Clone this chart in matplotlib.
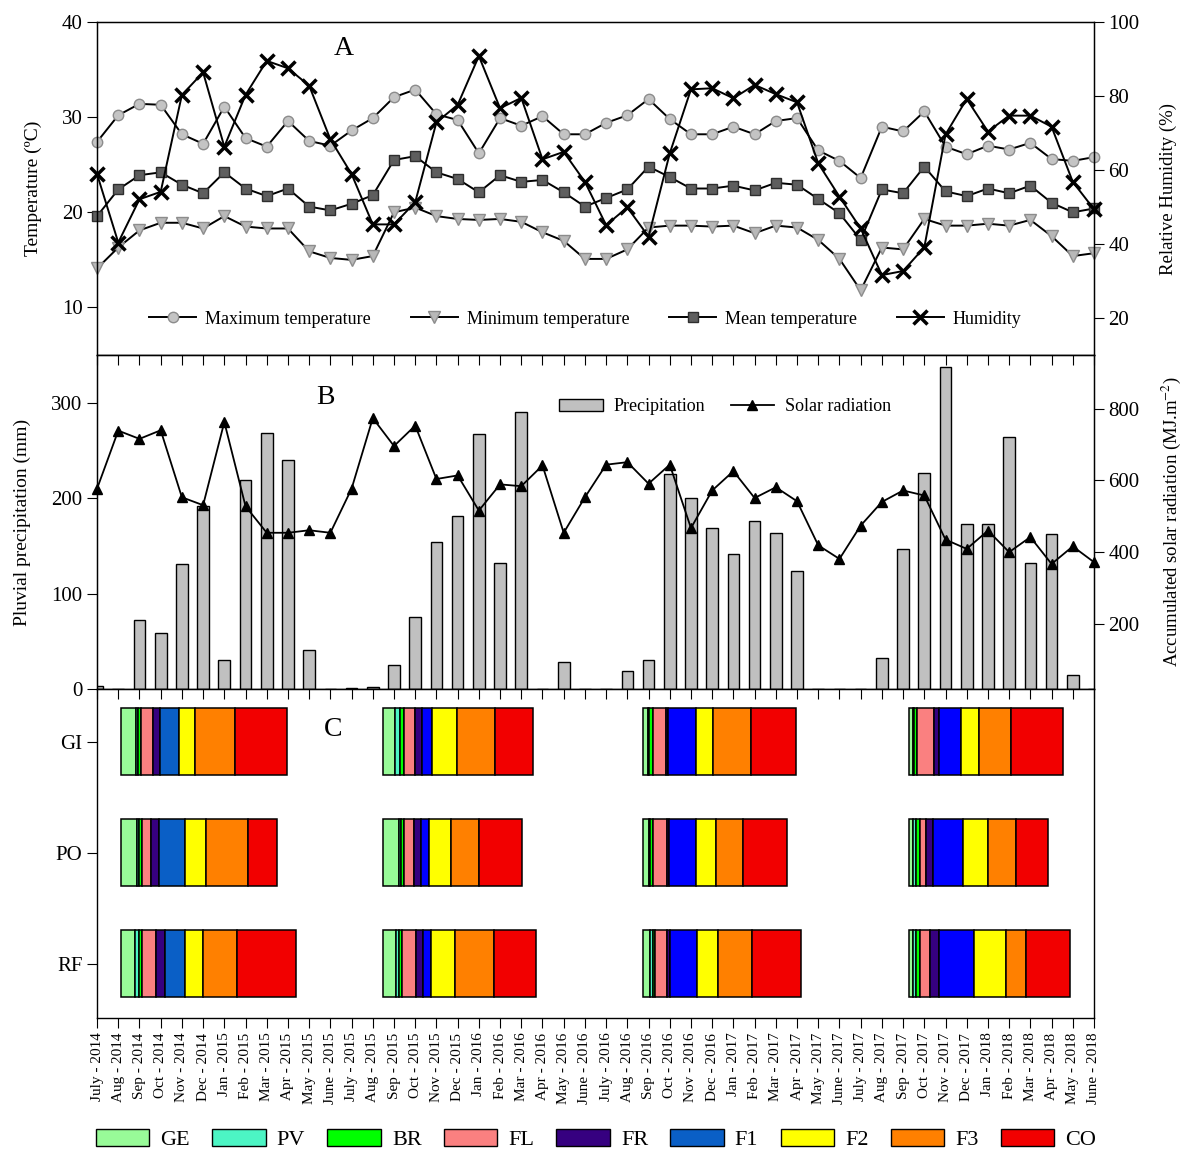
import numpy as np
import matplotlib
matplotlib.use('Agg')
import matplotlib.pyplot as plt
from matplotlib.patches import Patch
from matplotlib.lines import Line2D

plt.rcParams['font.family'] = ['Liberation Serif', 'DejaVu Serif']
plt.rcParams['mathtext.fontset'] = 'stix'

# ─── Data ────────────────────────────────────────────────────────────────────
months = ['July - 2014', 'Aug - 2014', 'Sep - 2014', 'Oct - 2014', 'Nov - 2014', 'Dec - 2014',
          'Jan - 2015', 'Feb - 2015', 'Mar - 2015', 'Apr - 2015', 'May - 2015', 'June - 2015',
          'July - 2015', 'Aug - 2015', 'Sep - 2015', 'Oct - 2015', 'Nov - 2015', 'Dec - 2015',
          'Jan - 2016', 'Feb - 2016', 'Mar - 2016', 'Apr - 2016', 'May - 2016', 'June - 2016',
          'July - 2016', 'Aug - 2016', 'Sep - 2016', 'Oct - 2016', 'Nov - 2016', 'Dec - 2016',
          'Jan - 2017', 'Feb - 2017', 'Mar - 2017', 'Apr - 2017', 'May - 2017', 'June - 2017',
          'July - 2017', 'Aug - 2017', 'Sep - 2017', 'Oct - 2017', 'Nov - 2017', 'Dec - 2017',
          'Jan - 2018', 'Feb - 2018', 'Mar - 2018', 'Apr - 2018', 'May - 2018', 'June - 2018']

t_max = [27.4, 30.2, 31.4, 31.3, 28.2, 27.2, 31.1, 27.8, 26.9, 29.6, 27.5, 27.0,
         28.6, 29.9, 32.1, 32.9, 30.3, 29.7, 26.2, 29.9, 29.1, 30.1, 28.2, 28.2,
         29.4, 30.2, 31.9, 29.8, 28.2, 28.2, 29.0, 28.2, 29.6, 29.9, 26.5, 25.4,
         23.6, 29.0, 28.5, 30.6, 26.9, 26.1, 27.0, 26.6, 27.3, 25.6, 25.4, 25.8]
t_min = [14.1, 16.3, 18.1, 18.9, 18.9, 18.3, 19.6, 18.5, 18.3, 18.3, 15.9, 15.2,
         15.0, 15.4, 20.0, 20.5, 19.6, 19.3, 19.2, 19.3, 19.0, 17.9, 17.0, 15.1,
         15.1, 16.1, 18.4, 18.6, 18.6, 18.5, 18.6, 17.8, 18.6, 18.4, 17.1, 15.1,
         11.8, 16.3, 16.1, 19.3, 18.6, 18.6, 18.8, 18.6, 19.2, 17.5, 15.4, 15.7]
t_mean = [19.6, 22.4, 23.9, 24.2, 22.9, 22.0, 24.2, 22.5, 21.7, 22.5, 20.6, 20.2,
          20.9, 21.8, 25.5, 25.9, 24.2, 23.5, 22.1, 23.9, 23.2, 23.4, 22.1, 20.6,
          21.5, 22.4, 24.8, 23.7, 22.5, 22.5, 22.8, 22.3, 23.1, 22.9, 21.4, 19.9,
          17.1, 22.4, 22.0, 24.8, 22.2, 21.7, 22.5, 22.0, 22.8, 21.0, 20.0, 20.4]
humidity = [58.9, 40.4, 52.1, 54.1, 80.3, 86.4, 66.3, 80.3, 89.5, 87.5, 82.8, 68.3,
            58.9, 45.3, 45.3, 51.3, 72.9, 77.6, 90.8, 76.7, 79.5, 62.9, 64.9, 56.8,
            45.1, 49.9, 42.0, 64.5, 81.8, 82.1, 79.4, 83.0, 80.5, 78.3, 61.8, 52.8,
            44.2, 31.6, 32.7, 39.1, 69.6, 79.2, 70.4, 74.7, 74.7, 71.7, 56.8, 49.4]

precip = [3, 0, 72, 59, 131, 192, 30, 219, 268, 240, 41, 0,
          1, 2, 25, 76, 154, 181, 267, 132, 290, 0, 28, 0,
          0, 19, 30, 225, 200, 169, 142, 176, 163, 124, 0, 0,
          0, 32, 147, 226, 337, 173, 173, 264, 132, 162, 15, 0]
solar = [577, 739, 716, 740, 553, 531, 763, 528, 454, 454, 461, 454,
         577, 774, 696, 753, 604, 614, 516, 589, 584, 642, 454, 553,
         644, 651, 591, 644, 467, 572, 626, 551, 581, 542, 419, 381,
         474, 540, 572, 558, 435, 409, 460, 400, 442, 367, 416, 372]

# phenology: season start (month index) and stage durations (months)
stages = ['GE', 'PV', 'BR', 'FL', 'FR', 'F1', 'F2', 'F3', 'CO']
treatments = ['GI', 'PO', 'RF']
season_start = [1.13, 13.47, 25.74, 38.27]
dur_GI = [[0.72, 0.10, 0.12, 0.57, 0.31, 0.93, 0.75, 1.88, 2.46],
          [0.58, 0.24, 0.16, 0.55, 0.31, 0.47, 1.18, 1.81, 1.76],
          [0.24, 0.04, 0.20, 0.60, 0.10, 1.30, 0.82, 1.80, 2.12],
          [0.20, 0.05, 0.14, 0.78, 0.27, 1.02, 0.83, 1.54, 2.43]]
dur_PO = [[0.75, 0.10, 0.14, 0.44, 0.38, 1.19, 0.99, 1.98, 1.38],
          [0.78, 0.10, 0.14, 0.47, 0.31, 0.39, 1.02, 1.33, 2.03],
          [0.28, 0.05, 0.14, 0.64, 0.11, 1.30, 0.90, 1.30, 2.07],
          [0.19, 0.13, 0.20, 0.30, 0.31, 1.43, 1.18, 1.32, 1.49]]
dur_RF = [[0.68, 0.19, 0.13, 0.66, 0.39, 0.96, 0.85, 1.62, 2.79],
          [0.61, 0.17, 0.14, 0.63, 0.36, 0.35, 1.15, 1.85, 1.96],
          [0.33, 0.12, 0.12, 0.58, 0.11, 1.30, 0.99, 1.57, 2.35],
          [0.19, 0.17, 0.19, 0.44, 0.42, 1.65, 1.54, 0.94, 2.07]]

# ─── Style ───────────────────────────────────────────────────────────────────
stage_colors = ['#98fb98', '#4cf5c4', '#00ff00', '#fa8080', '#360080',
                '#0a5fc6', '#ffff00', '#ff8000', '#f20000']
f1_season_colors = ['#0a5fc6', '#0000ff', '#0000ff', '#0000ff']
TICK_FS = 15
LABEL_FS = 14

x = np.arange(len(months))

fig = plt.figure(figsize=(11.85, 11.53), dpi=100)
L, R = 0.0819, 0.9232
axA = fig.add_axes([L, 0.6921, R - L, 0.9809 - 0.6921])
axB = fig.add_axes([L, 0.4024, R - L, 0.6921 - 0.4024])
axC = fig.add_axes([L, 0.1171, R - L, 0.4024 - 0.1171])

for ax in (axA, axB, axC):
    ax.set_xlim(0, len(months) - 1)
    for s in ax.spines.values():
        s.set_linewidth(1.0)

# ─── Panel A ─────────────────────────────────────────────────────────────────
axA2 = axA.twinx()
h1, = axA.plot(x, t_max, '-o', color='black', lw=1.4, ms=7.5, mfc='#c4c4c4', mec='#8c8c8c', mew=1,
               label='Maximum temperature', clip_on=False)
h2, = axA.plot(x, t_min, '-v', color='black', lw=1.4, ms=8, mfc='#b8b8b8', mec='#8c8c8c', mew=1,
               label='Minimum temperature', clip_on=False)
h3, = axA.plot(x, t_mean, '-s', color='black', lw=1.4, ms=7, mfc='#5e5e5e', mec='#2e2e2e', mew=1,
               label='Mean temperature', clip_on=False)
h4, = axA2.plot(x, humidity, '-x', color='black', lw=1.4, ms=9.5, mew=2.5, label='Humidity',
                clip_on=False)

axA.set_ylim(5, 40)
axA.set_yticks([10, 20, 30, 40])
axA2.set_ylim(10, 100)
axA2.set_yticks([20, 40, 60, 80, 100])
axA.set_xticks([])
axA.tick_params(axis='y', labelsize=TICK_FS, direction='out', length=7)
axA2.tick_params(axis='y', labelsize=TICK_FS, direction='out', length=7)
axA.set_ylabel('Temperature (ºC)', fontsize=LABEL_FS)
axA.yaxis.set_label_coords(-0.055, 0.5)
axA2.set_ylabel('Relative Humidity (%)', fontsize=13.5)
axA2.yaxis.set_label_coords(1.066, 0.5)
axA.text(0.247, 0.92, 'A', transform=axA.transAxes, fontsize=20, ha='center', va='center')
axA.legend(handles=[h1, h2, h3, h4], loc='center', bbox_to_anchor=(0.49, 0.108), ncol=4,
           frameon=False, fontsize=13, handlelength=2.6, handletextpad=0.5, columnspacing=2.2)

# ─── Panel B ─────────────────────────────────────────────────────────────────
axB2 = axB.twinx()
axB.bar(x, precip, width=0.55, color='#c0c0c0', edgecolor='black', linewidth=1.0)
axB2.plot(x, solar, '-^', color='black', lw=1.3, ms=7.5, mfc='black', mec='black', clip_on=False)
axB.set_ylim(0, 350)
axB.set_yticks([0, 100, 200, 300])
axB2.set_ylim(18, 950)
axB2.set_yticks([200, 400, 600, 800])
axB.set_xticks(x)
axB.tick_params(axis='x', top=True, bottom=False, labelbottom=False, direction='in', length=7)
axB.tick_params(axis='y', labelsize=TICK_FS, direction='out', length=7)
axB2.tick_params(axis='y', labelsize=TICK_FS, direction='out', length=7)
axB.set_ylabel('Pluvial precipitation (mm)', fontsize=LABEL_FS)
axB.yaxis.set_label_coords(-0.066, 0.5)
axB2.set_ylabel('Accumulated solar radiation (MJ.m$^{-2}$)', fontsize=13.5)
axB2.yaxis.set_label_coords(1.066, 0.5)
axB.text(0.229, 0.874, 'B', transform=axB.transAxes, fontsize=20, ha='center', va='center')
leg_b = [Patch(facecolor='#c0c0c0', edgecolor='black', label='Precipitation'),
         Line2D([0], [0], color='black', marker='^', ms=7.5, lw=1.3, label='Solar radiation')]
axB.legend(handles=leg_b, loc='center', bbox_to_anchor=(0.63, 0.845), ncol=2, frameon=False,
           fontsize=13, handlelength=2.4, handletextpad=0.6, columnspacing=1.4)

# ─── Panel C ─────────────────────────────────────────────────────────────────
durations = {'GI': dur_GI, 'PO': dur_PO, 'RF': dur_RF}
ypos = {'GI': 2, 'PO': 1, 'RF': 0}
for trt in treatments:
    for si, start in enumerate(season_start):
        d = durations[trt][si]
        lefts = start + np.concatenate([[0], np.cumsum(d)[:-1]])
        cols = list(stage_colors)
        cols[5] = f1_season_colors[si]
        axC.barh(ypos[trt], d, left=lefts, height=0.6, color=cols,
                 edgecolor='black', linewidth=1.1)

axC.set_ylim(-0.49, 2.475)
axC.set_yticks([ypos[t] for t in treatments])
axC.set_yticklabels(treatments)
axC.set_xticks(x)
axC.set_xticklabels(months, rotation=90, fontsize=11)
axC.tick_params(axis='x', top=True, direction='out', length=7)
for t in axC.xaxis.get_major_ticks():
    t.tick2line.set_marker(3)  # top ticks pointing inward
axC.tick_params(axis='y', labelsize=TICK_FS, direction='out', length=7)
axC.text(0.237, 0.878, 'C', transform=axC.transAxes, fontsize=20, ha='center', va='center')

leg_c = [Patch(facecolor=c, edgecolor='black', label=s) for s, c in zip(stages, stage_colors)]
fig.legend(handles=leg_c, loc='center', bbox_to_anchor=(0.503, 0.0115), ncol=9, frameon=False,
           fontsize=16, handlelength=2.4, handleheight=0.8, handletextpad=0.5, columnspacing=1.0)

fig.savefig('out.png', dpi=100)
plt.close()
